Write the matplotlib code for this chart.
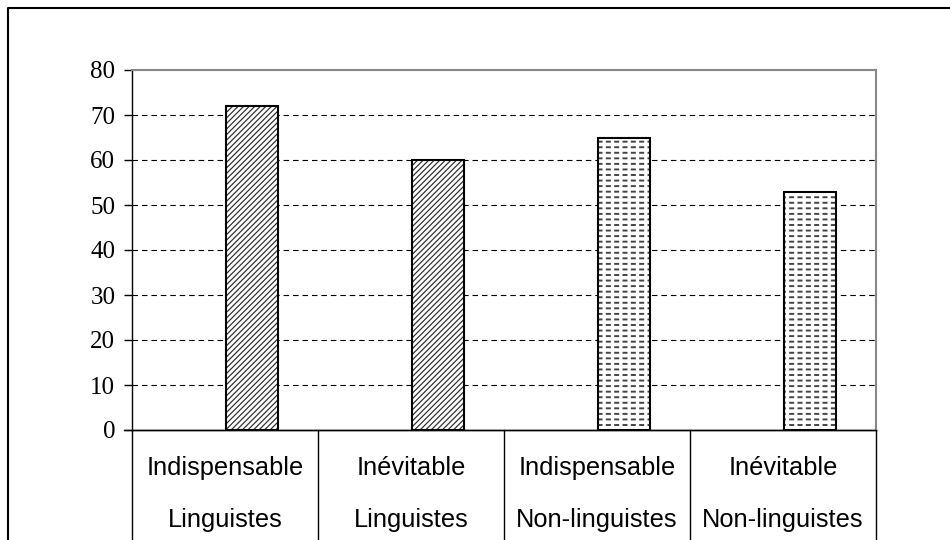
import matplotlib
matplotlib.use("Agg")
import matplotlib.pyplot as plt
from matplotlib.lines import Line2D
import numpy as np

line1 = ["Indispensable", "Inévitable", "Indispensable", "Inévitable"]
line2 = ["Linguistes", "Linguistes", "Non-linguistes", "Non-linguistes"]
values = [72, 60, 65, 53]
hatch_kind = ["diag", "diag", "dash", "dash"]
yticks = [0, 10, 20, 30, 40, 50, 60, 70, 80]

W, H = 950, 540
fig = plt.figure(figsize=(W / 100, H / 100), dpi=100)
L, R, T, B = 132, 876, 70, 430
ax = fig.add_axes([L / W, 1 - B / H, (R - L) / W, (B - T) / H])

x = np.arange(len(values))
offset = 0.145
width = 0.28

def set_hlw(p, lw):
    if hasattr(p, "set_hatch_linewidth"):
        p.set_hatch_linewidth(lw)

for xi, v, hk in zip(x, values, hatch_kind):
    if hk == "diag":
        b = ax.bar(xi + offset, v, width, color="white", edgecolor="#333333",
                   hatch="//////", linewidth=0, zorder=3)
        for p in b:
            set_hlw(p, 0.9)
    else:
        b = ax.bar(xi + offset, v, width, color="white", edgecolor="#444444",
                   hatch="---", linewidth=0, zorder=3)
        for p in b:
            set_hlw(p, 1.4)
        b2 = ax.bar(xi + offset, v, width, color="none", edgecolor="white",
                    hatch="||", linewidth=0, zorder=3.5)
        for p in b2:
            set_hlw(p, 2.4)
    ax.bar(xi + offset, v, width, color="none", edgecolor="black",
           linewidth=1.5, zorder=4)

ax.set_xlim(-0.5, 3.5)
ax.set_ylim(0, 80)
ax.set_yticks(yticks)
ax.set_yticklabels([str(t) for t in yticks], family="Liberation Serif", fontsize=18)
ax.tick_params(axis="y", direction="out", length=6, width=1, pad=6, colors="black")
ax.set_xticks([])

for t in yticks[1:-1]:
    ax.axhline(t, color="black", lw=0.8, linestyle=(0, (5, 3.5)), zorder=1)

ax.spines["top"].set_color("#888888")
ax.spines["right"].set_color("#888888")
ax.spines["top"].set_linewidth(1.5)
ax.spines["right"].set_linewidth(1.5)
ax.spines["left"].set_color("black")
ax.spines["bottom"].set_color("black")
ax.spines["left"].set_linewidth(1.0)
ax.spines["bottom"].set_linewidth(1.0)

# category table below axis
trans = ax.get_xaxis_transform()
for xb in np.arange(-0.5, len(values), 1.0):
    ax.add_line(Line2D([xb, xb], [0, -0.4], transform=trans, color="black",
                       lw=1.0, clip_on=False))
ax.add_line(Line2D([-0.543, 3.5], [0, 0], transform=trans, color="black",
                   lw=1.0, clip_on=False))
for xi, a, c in zip(x, line1, line2):
    ax.text(xi, -0.106, a, transform=trans, ha="center", va="center",
            family="Liberation Sans", fontsize=18.3)
    ax.text(xi, -0.25, c, transform=trans, ha="center", va="center",
            family="Liberation Sans", fontsize=18.3)

# outer frame (left and top)
fig.add_artist(Line2D([8 / W, 8 / W, 1.0], [0, 1 - 8 / H, 1 - 8 / H],
                      transform=fig.transFigure, color="black", lw=1.5))

fig.savefig("out.png", dpi=100)
